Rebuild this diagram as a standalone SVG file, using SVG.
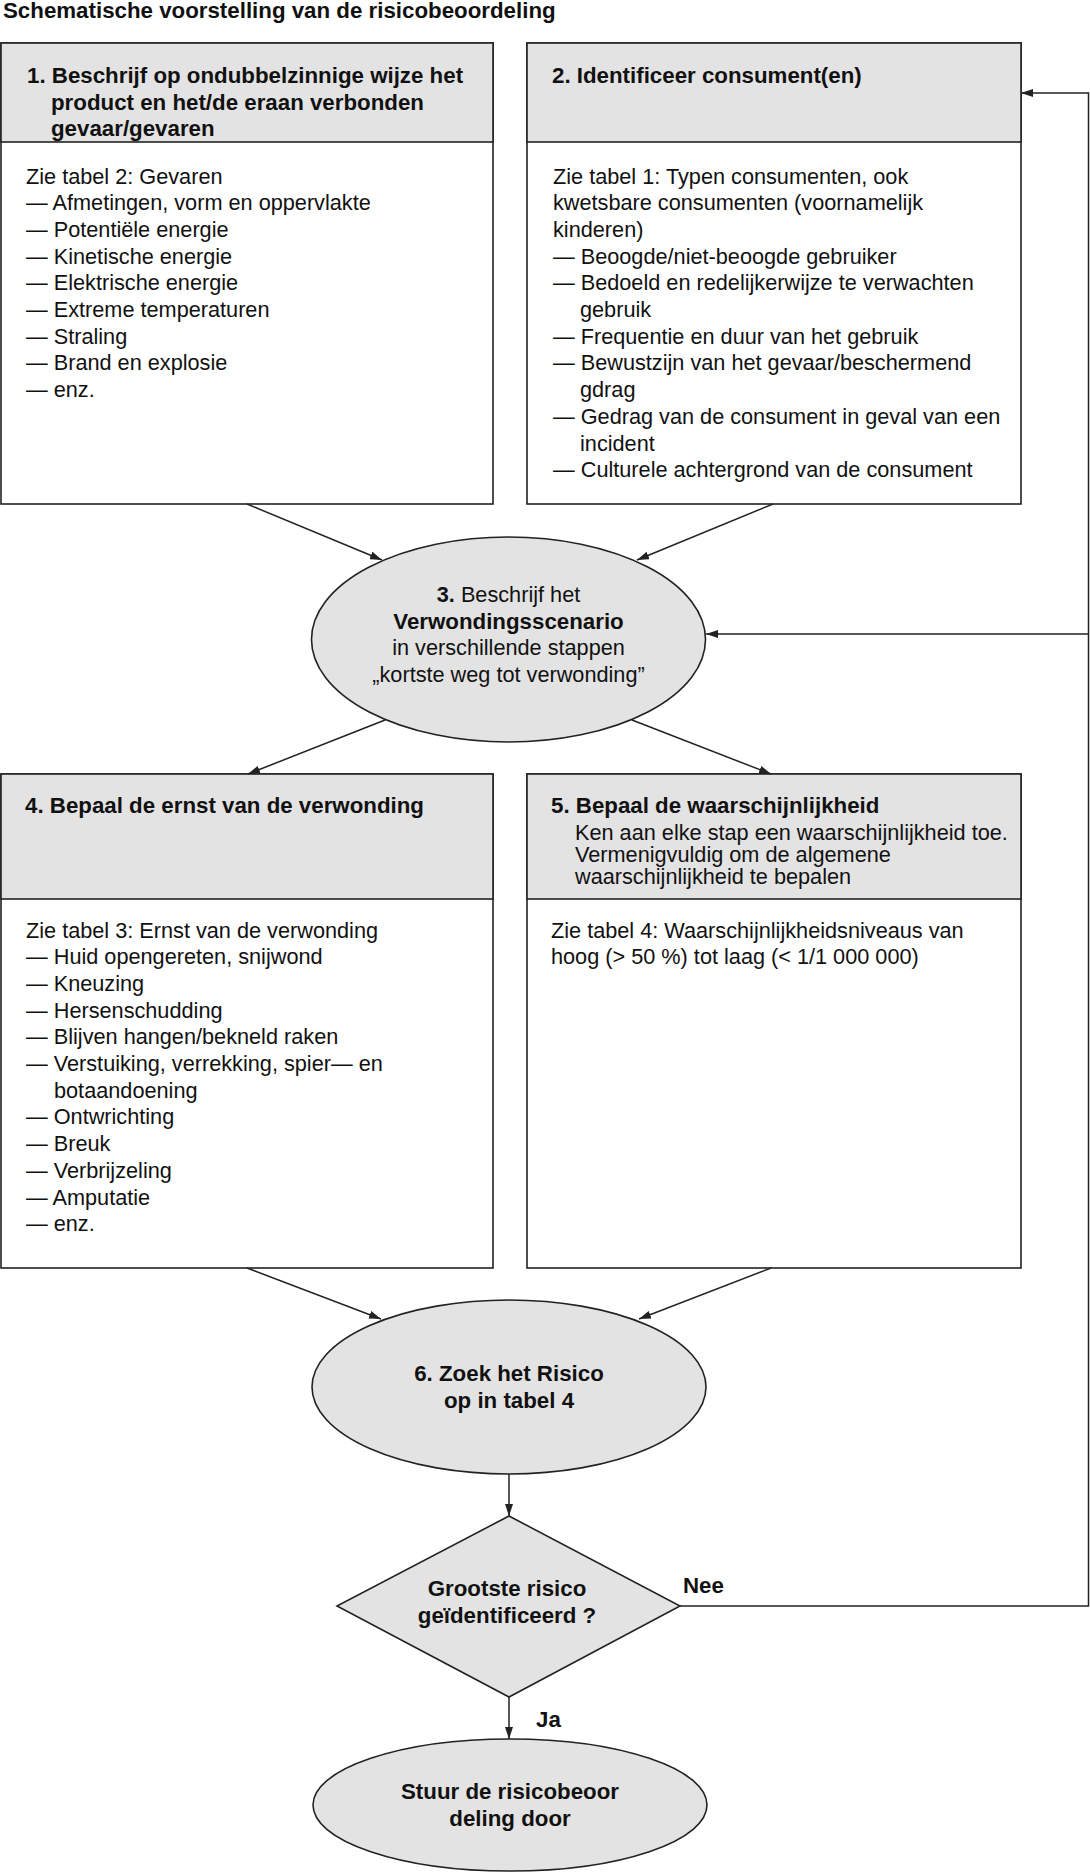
<svg xmlns="http://www.w3.org/2000/svg" width="1090" height="1872" viewBox="0 0 1090 1872">
<defs>
<style>
.t{font-family:"Liberation Sans",Arial,Helvetica,sans-serif;font-size:21.7px;fill:#111}
.b{font-family:"Liberation Sans",Arial,Helvetica,sans-serif;font-size:22.3px;font-weight:bold;fill:#111}
.bx{fill:#fff;stroke:#222;stroke-width:1.6}
.hd{fill:#e3e3e3;stroke:#222;stroke-width:1.6}
.sh{fill:#e3e3e3;stroke:#222;stroke-width:1.6}
.c{fill:none;stroke:#222;stroke-width:1.5}
.m{text-anchor:middle}
</style>
<marker id="ah" viewBox="0 0 12 8" refX="12" refY="4" markerWidth="12" markerHeight="8" markerUnits="userSpaceOnUse" orient="auto">
<path d="M0,0 L12,4 L0,8 z" fill="#222"/>
</marker>
</defs>
<rect width="1090" height="1872" fill="#fff"/>
<text class="b" x="3" y="18">Schematische voorstelling van de risicobeoordeling</text>

<g id="node1">
<rect class="bx" x="1" y="43" width="492" height="461"/>
<rect class="hd" x="1" y="43" width="492" height="99"/>
<text class="b"><tspan x="27" y="83">1. Beschrijf op ondubbelzinnige wijze het</tspan><tspan x="51" y="110">product en het/de eraan verbonden</tspan><tspan x="51" y="136">gevaar/gevaren</tspan></text>
<text class="t"><tspan x="26" y="183.5">Zie tabel 2: Gevaren</tspan><tspan x="26" y="210.2">— Afmetingen, vorm en oppervlakte</tspan><tspan x="26" y="236.9">— Potentiële energie</tspan><tspan x="26" y="263.6">— Kinetische energie</tspan><tspan x="26" y="290.3">— Elektrische energie</tspan><tspan x="26" y="317">— Extreme temperaturen</tspan><tspan x="26" y="343.7">— Straling</tspan><tspan x="26" y="370.4">— Brand en explosie</tspan><tspan x="26" y="397.1">— enz.</tspan></text>
</g>

<g id="node2">
<rect class="bx" x="527" y="43" width="494" height="461"/>
<rect class="hd" x="527" y="43" width="494" height="99"/>
<text class="b" x="552" y="83">2. Identificeer consument(en)</text>
<text class="t"><tspan x="553" y="183.5">Zie tabel 1: Typen consumenten, ook</tspan><tspan x="553" y="210.2">kwetsbare consumenten (voornamelijk</tspan><tspan x="553" y="236.9">kinderen)</tspan><tspan x="553" y="263.6">— Beoogde/niet-beoogde gebruiker</tspan><tspan x="553" y="290.3">— Bedoeld en redelijkerwijze te verwachten</tspan><tspan x="580" y="317">gebruik</tspan><tspan x="553" y="343.7">— Frequentie en duur van het gebruik</tspan><tspan x="553" y="370.4">— Bewustzijn van het gevaar/beschermend</tspan><tspan x="580" y="397.1">gdrag</tspan><tspan x="553" y="423.8">— Gedrag van de consument in geval van een</tspan><tspan x="580" y="450.5">incident</tspan><tspan x="553" y="477.2">— Culturele achtergrond van de consument</tspan></text>
</g>

<g id="node3">
<ellipse class="sh" cx="508.5" cy="639.5" rx="197" ry="102.5"/>
<text class="t m" x="508.5" y="602"><tspan font-weight="bold">3.</tspan> Beschrijf het</text>
<text class="b m" x="508.5" y="628.5">Verwondingsscenario</text>
<text class="t m" x="508.5" y="655">in verschillende stappen</text>
<text class="t m" x="508.5" y="682">„kortste weg tot verwonding”</text>
</g>

<g id="node4">
<rect class="bx" x="1" y="774" width="492" height="494"/>
<rect class="hd" x="1" y="774" width="492" height="125"/>
<text class="b" x="25" y="813">4. Bepaal de ernst van de verwonding</text>
<text class="t"><tspan x="26" y="937.5">Zie tabel 3: Ernst van de verwonding</tspan><tspan x="26" y="964.2">— Huid opengereten, snijwond</tspan><tspan x="26" y="990.9">— Kneuzing</tspan><tspan x="26" y="1017.6">— Hersenschudding</tspan><tspan x="26" y="1044.3">— Blijven hangen/bekneld raken</tspan><tspan x="26" y="1071">— Verstuiking, verrekking, spier— en</tspan><tspan x="54" y="1097.7">botaandoening</tspan><tspan x="26" y="1124.4">— Ontwrichting</tspan><tspan x="26" y="1151.1">— Breuk</tspan><tspan x="26" y="1177.8">— Verbrijzeling</tspan><tspan x="26" y="1204.5">— Amputatie</tspan><tspan x="26" y="1231.2">— enz.</tspan></text>
</g>

<g id="node5">
<rect class="bx" x="527" y="774" width="494" height="494"/>
<rect class="hd" x="527" y="774" width="494" height="125"/>
<text class="b" x="551" y="813">5. Bepaal de waarschijnlijkheid</text>
<text class="t"><tspan x="575" y="840">Ken aan elke stap een waarschijnlijkheid toe.</tspan><tspan x="575" y="862">Vermenigvuldig om de algemene</tspan><tspan x="575" y="884">waarschijnlijkheid te bepalen</tspan></text>
<text class="t"><tspan x="551" y="937.5">Zie tabel 4: Waarschijnlijkheidsniveaus van</tspan><tspan x="551" y="964.2">hoog (&gt; 50 %) tot laag (&lt; 1/1 000 000)</tspan></text>
</g>

<g id="node6">
<ellipse class="sh" cx="509" cy="1387" rx="197" ry="87"/>
<text class="b m" x="509" y="1380.5">6. Zoek het Risico</text>
<text class="b m" x="509" y="1407.5">op in tabel 4</text>
</g>

<g id="decision">
<polygon class="sh" points="509,1516 680,1606 509,1697 337,1606"/>
<text class="b m" x="507" y="1596">Grootste risico</text>
<text class="b m" x="507" y="1623">geïdentificeerd ?</text>
</g>

<g id="end">
<ellipse class="sh" cx="510" cy="1805" rx="197" ry="66"/>
<text class="b m" x="510" y="1798.5">Stuur de risicobeoor</text>
<text class="b m" x="510" y="1825.5">deling door</text>
</g>

<g id="connectors">
<path class="c" d="M247,504 L382,560" marker-end="url(#ah)"/>
<path class="c" d="M773,504 L637,560" marker-end="url(#ah)"/>
<path class="c" d="M385,720 L248,774" marker-end="url(#ah)"/>
<path class="c" d="M632,720 L771,774" marker-end="url(#ah)"/>
<path class="c" d="M247,1268 L381,1319" marker-end="url(#ah)"/>
<path class="c" d="M771,1268 L639,1319" marker-end="url(#ah)"/>
<path class="c" d="M509,1474 L509,1516" marker-end="url(#ah)"/>
<path class="c" d="M509,1697 L509,1739" marker-end="url(#ah)"/>
<path class="c" d="M680,1606 L1088.5,1606 L1088.5,93 L1021,93" marker-end="url(#ah)"/>
<path class="c" d="M1088.5,634 L706,634" marker-end="url(#ah)"/>
<text class="b" x="683" y="1593">Nee</text>
<text class="b" x="536" y="1727">Ja</text>
</g>
</svg>
